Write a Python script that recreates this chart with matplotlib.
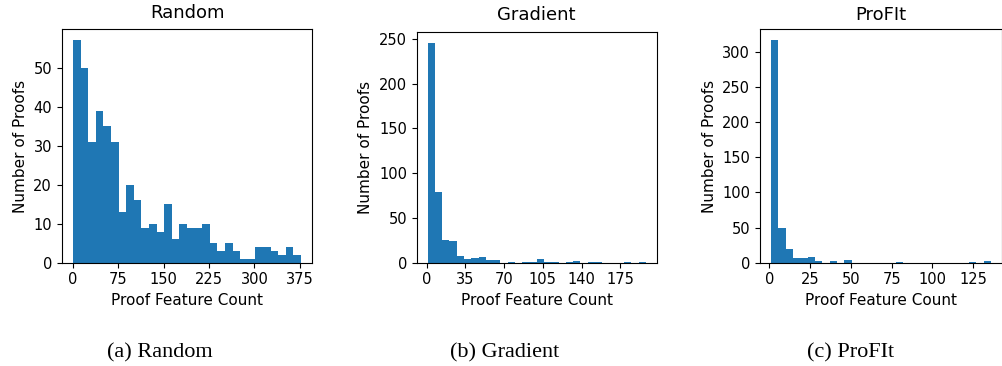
import numpy as np
import matplotlib
matplotlib.use("Agg")
import matplotlib.pyplot as plt

# histogram counts (30 bins each)
random_counts = [57, 50, 31, 39, 35, 31, 13, 20, 16, 9, 10, 8, 15, 6, 10,
                 9, 9, 10, 5, 3, 5, 3, 1, 1, 4, 4, 3, 2, 4, 2]
gradient_counts = [246, 79, 25, 24, 7, 4, 5, 6, 3, 3, 0, 1, 0, 1, 1,
                   4, 1, 1, 0, 1, 2, 0, 1, 1, 0, 0, 0, 1, 0, 1]
profit_counts = [316, 49, 19, 6, 6, 8, 3, 0, 3, 0, 4, 0, 0, 0, 0,
                 0, 0, 1, 0, 0, 0, 0, 0, 0, 0, 0, 0, 1, 0, 3]

# range of proof feature counts covered by the bins
random_range = (0, 377)
gradient_range = (1, 198)
profit_range = (1, 136)

random_ticks = [0, 75, 150, 225, 300, 375]
gradient_ticks = [0, 35, 70, 105, 140, 175]
profit_ticks = [0, 25, 50, 75, 100, 125]

titles = ["Random", "Gradient", "ProFIt"]
captions = ["(a) Random", "(b) Gradient", "(c) ProFIt"]

W, H = 1003, 366
fig = plt.figure(figsize=(W / 100, H / 100), dpi=100)

# axes boxes in pixels: left, right, top, bottom
boxes = [(61.7, 312.3, 29.3, 262.7),
         (416.7, 656.7, 31.5, 262.7),
         (760.0, 1002.0, 29.3, 262.7)]
title_pads = [8, 8.5, 7]
caption_x = [160, 505, 851]

panels = [(random_counts, random_range, random_ticks),
          (gradient_counts, gradient_range, gradient_ticks),
          (profit_counts, profit_range, profit_ticks)]

for i, (counts, rng, ticks) in enumerate(panels):
    l, r, t, b = boxes[i]
    ax = fig.add_axes([l / W, 1 - b / H, (r - l) / W, (b - t) / H])
    edges = np.linspace(rng[0], rng[1], len(counts) + 1)
    mids = (edges[:-1] + edges[1:]) / 2
    ax.hist(mids, bins=edges, weights=counts, color="#1f77b4")
    ax.set_xticks(ticks)
    ax.tick_params(labelsize=10.5)
    ax.set_xlabel("Proof Feature Count", fontsize=11)
    ax.set_ylabel("Number of Proofs", fontsize=11)
    ax.set_title(titles[i], fontsize=13, pad=title_pads[i])
    fig.text(caption_x[i] / W, 1 - 353 / H, captions[i], ha="center", va="center",
             fontsize=16, family="Liberation Serif")

fig.savefig("out.png", dpi=100)
